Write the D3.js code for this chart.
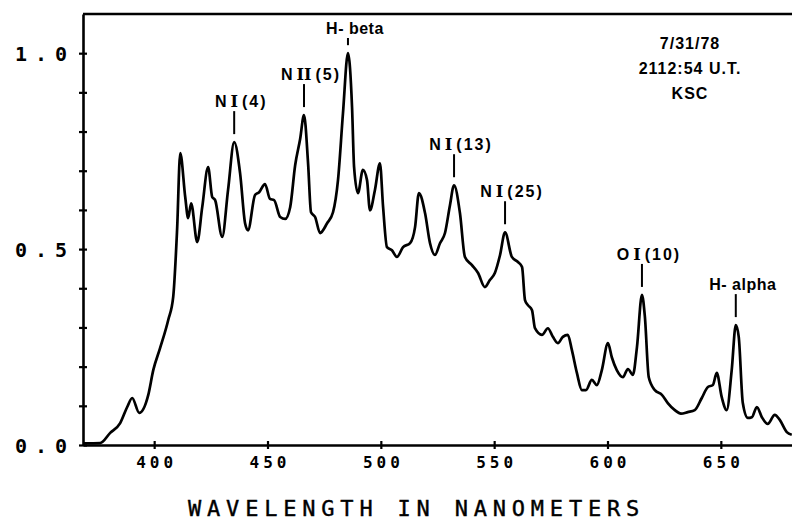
<!DOCTYPE html>
<html>
<head>
<meta charset="utf-8">
<script src="https://cdn.jsdelivr.net/npm/d3@7"></script>
<style>
  body { margin: 0; background: #fff; }
  svg { display: block; }
</style>
</head>
<body>
<svg id="chart" width="792" height="522"></svg>
<script>
// spectrum (nm, relative intensity)
const wavelength = [
  369, 376.2, 380.6, 385.0, 388.1, 390.3, 393.4, 397.4, 399.6, 402.6,
  406.2, 408.4, 410.1, 411.5, 413.7, 415.0, 416.3, 419.0, 421.2, 423.8,
  425.6, 426.9, 430.0, 432.6, 435.3, 437.9, 440.1, 441.4, 444.5, 446.3,
  448.9, 451.1, 452.9, 455.6, 457.8, 460.0, 462.2, 464.4, 466.1, 467.9,
  469.2, 471.0, 473.2, 476.3, 478.9, 481.1, 483.3, 485.5, 487.3, 488.2,
  489.9, 492.1, 493.9, 495.2, 497.4, 499.6, 501.0, 502.7, 504.9, 507.1,
  509.8, 512.9, 515.1, 516.8, 519.5, 521.7, 523.9, 526.1, 528.3, 530.5,
  532.3, 534.9, 537.1, 540.2, 542.9, 545.9, 548.1, 550.3, 552.6, 554.8,
  557.8, 560.5, 562.3, 563.6, 564.9, 566.7, 568.0, 571.1, 573.7, 575.9,
  578.1, 580.3, 582.5, 584.3, 586.5, 588.7, 590.5, 593.1, 595.3, 597.5,
  600.2, 601.9, 604.1, 606.8, 609.0, 611.2, 613.0, 615.2, 616.5, 618.2,
  620.9, 624.0, 626.6, 629.7, 632.4, 635.4, 638.5, 641.6, 644.3, 646.5,
  648.2, 650.4, 652.6, 654.8, 656.6, 657.9, 659.7, 661.9, 663.7, 665.9,
  668.1, 670.7, 673.8, 676.0, 679.1, 681.3
];
const intensity = [
  0.004, 0.005, 0.031, 0.056, 0.097, 0.120, 0.082, 0.128, 0.191, 0.247,
  0.319, 0.378, 0.548, 0.745, 0.633, 0.579, 0.617, 0.518, 0.607, 0.709,
  0.633, 0.625, 0.531, 0.651, 0.773, 0.694, 0.566, 0.548, 0.638, 0.645,
  0.666, 0.628, 0.625, 0.582, 0.577, 0.607, 0.714, 0.781, 0.842, 0.719,
  0.594, 0.582, 0.541, 0.566, 0.594, 0.676, 0.847, 1.000, 0.862, 0.709,
  0.643, 0.702, 0.676, 0.599, 0.651, 0.719, 0.607, 0.505, 0.497, 0.480,
  0.505, 0.515, 0.556, 0.643, 0.592, 0.515, 0.485, 0.515, 0.541, 0.612,
  0.663, 0.592, 0.480, 0.459, 0.439, 0.403, 0.421, 0.439, 0.485, 0.543,
  0.480, 0.467, 0.454, 0.370, 0.357, 0.344, 0.298, 0.281, 0.298, 0.276,
  0.260, 0.276, 0.281, 0.242, 0.184, 0.140, 0.140, 0.166, 0.153, 0.191,
  0.260, 0.224, 0.191, 0.173, 0.194, 0.179, 0.250, 0.383, 0.327, 0.173,
  0.140, 0.128, 0.107, 0.089, 0.080, 0.084, 0.089, 0.120, 0.148, 0.153,
  0.184, 0.122, 0.089, 0.191, 0.306, 0.276, 0.107, 0.069, 0.071, 0.097,
  0.071, 0.054, 0.077, 0.064, 0.033, 0.026
];

// emission line labels
const lineLabels = ["NI(4)", "NII(5)", "H- beta", "NI(13)", "NI(25)", "OI(10)", "H- alpha"];
const lineWavelengths = [435.3, 466.1, 485.5, 532.3, 554.8, 615.2, 656.6];

const xTicks = [400, 450, 500, 550, 600, 650];
const yTicks = [0, 0.1, 0.2, 0.3, 0.4, 0.5, 0.6, 0.7, 0.8, 0.9, 1.0];
const yLabelled = [0, 0.5, 1.0];
const stampLines = ["7/31/78", "2112:54 U.T.", "KSC"];
const xTitle = "WAVELENGTH IN NANOMETERS";

const W = 792, H = 522;
const margin = { top: 14, right: 0, bottom: 77, left: 83 };
const svg = d3.select("#chart");

const x = d3.scaleLinear().domain([368.6, 681.4]).range([margin.left, W - margin.right]);
const y = d3.scaleLinear().domain([0, 1.1]).range([H - margin.bottom, margin.top]);

const mono = "'DejaVu Sans Mono', monospace";

// Y axis
svg.append("g")
    .attr("transform", `translate(${margin.left},0)`)
    .call(d3.axisLeft(y).tickValues(yTicks).tickSizeInner(4).tickSizeOuter(0)
        .tickFormat(d => yLabelled.some(v => Math.abs(v - d) < 1e-6) ? d3.format(".1f")(d) : ""))
    .call(g => g.select(".domain").attr("stroke-width", 2.6))
    .call(g => g.selectAll(".tick line").attr("x1", 4).attr("x2", -4).attr("stroke-width", 2.2))
    .call(g => g.selectAll(".tick text")
        .attr("x", -8).attr("dy", "0.36em")
        .attr("font-family", mono).attr("font-weight", "bold")
        .attr("font-size", 20).attr("letter-spacing", 8).attr("fill", "#000"));

// X axis
svg.append("g")
    .attr("transform", `translate(0,${y(0)})`)
    .call(d3.axisBottom(x).tickValues(xTicks).tickSizeInner(4).tickSizeOuter(0).tickFormat(d3.format("d")))
    .call(g => g.select(".domain").attr("stroke-width", 2.6))
    .call(g => g.selectAll(".tick line").attr("y1", -4).attr("y2", 4).attr("stroke-width", 2.2))
    .call(g => g.selectAll(".tick text")
        .attr("y", 12).attr("dy", "0.71em").attr("dx", 2)
        .attr("font-family", mono).attr("font-weight", "bold")
        .attr("font-size", 16).attr("letter-spacing", 4).attr("fill", "#000"));

// top frame line
svg.append("line")
    .attr("x1", margin.left).attr("x2", W)
    .attr("y1", y(1.1)).attr("y2", y(1.1))
    .attr("stroke", "#000").attr("stroke-width", 2.6);

// spectrum
const pts = wavelength.map((w, i) => [w, intensity[i]]);
svg.append("path")
    .datum(pts)
    .attr("fill", "none")
    .attr("stroke", "#000")
    .attr("stroke-width", 2.7)
    .attr("stroke-linejoin", "round")
    .attr("d", d3.line().curve(d3.curveMonotoneX).x(d => x(d[0])).y(d => y(d[1])));

// line markers + labels
const bis = d3.bisector(d => d[0]).center;
const lab = svg.append("g");
lineLabels.forEach((name, i) => {
  const w = lineWavelengths[i];
  const v = pts[bis(pts, w)][1];
  const px = x(w);
  const bottom = y(v) - 8;
  const base = Math.max(34, bottom - 27);
  const top = base + 4;
  lab.append("line")
      .attr("x1", px).attr("x2", px).attr("y1", top).attr("y2", bottom)
      .attr("stroke", "#000").attr("stroke-width", 2);
  const t = lab.append("text")
      .attr("x", px + 7).attr("y", base)
      .attr("text-anchor", "middle")
      .attr("font-family", "'Liberation Sans', Arial, sans-serif")
      .attr("font-weight", "bold").attr("font-size", 16)
      .attr("fill", "#000");
  const m = name.match(/^([A-Z])(I+)(\(.*\))$/);
  if (m) {
    t.attr("letter-spacing", 2);
    t.append("tspan").text(m[1]);
    t.append("tspan").attr("font-family", "'DejaVu Serif', serif").attr("dx", 2).attr("letter-spacing", 0).text(m[2]);
    t.append("tspan").attr("dx", 4).text(m[3]);
  } else {
    t.attr("letter-spacing", 0.5).text(name);
  }
});

// date/time/site stamp
svg.append("g").selectAll("text")
    .data(stampLines)
    .join("text")
    .attr("x", 690).attr("y", (d, i) => 49 + i * 25)
    .attr("text-anchor", "middle")
    .attr("font-family", "'Liberation Sans', Arial, sans-serif")
    .attr("font-weight", "bold").attr("font-size", 16)
    .attr("letter-spacing", 1)
    .attr("fill", "#000")
    .text(d => d);

// x title
svg.append("text")
    .attr("x", 188).attr("y", 516)
    .attr("font-family", mono).attr("font-size", 22)
    .attr("letter-spacing", 5.8)
    .attr("stroke", "#000").attr("stroke-width", 0.4)
    .attr("fill", "#000")
    .text(xTitle);
</script>
</body>
</html>
